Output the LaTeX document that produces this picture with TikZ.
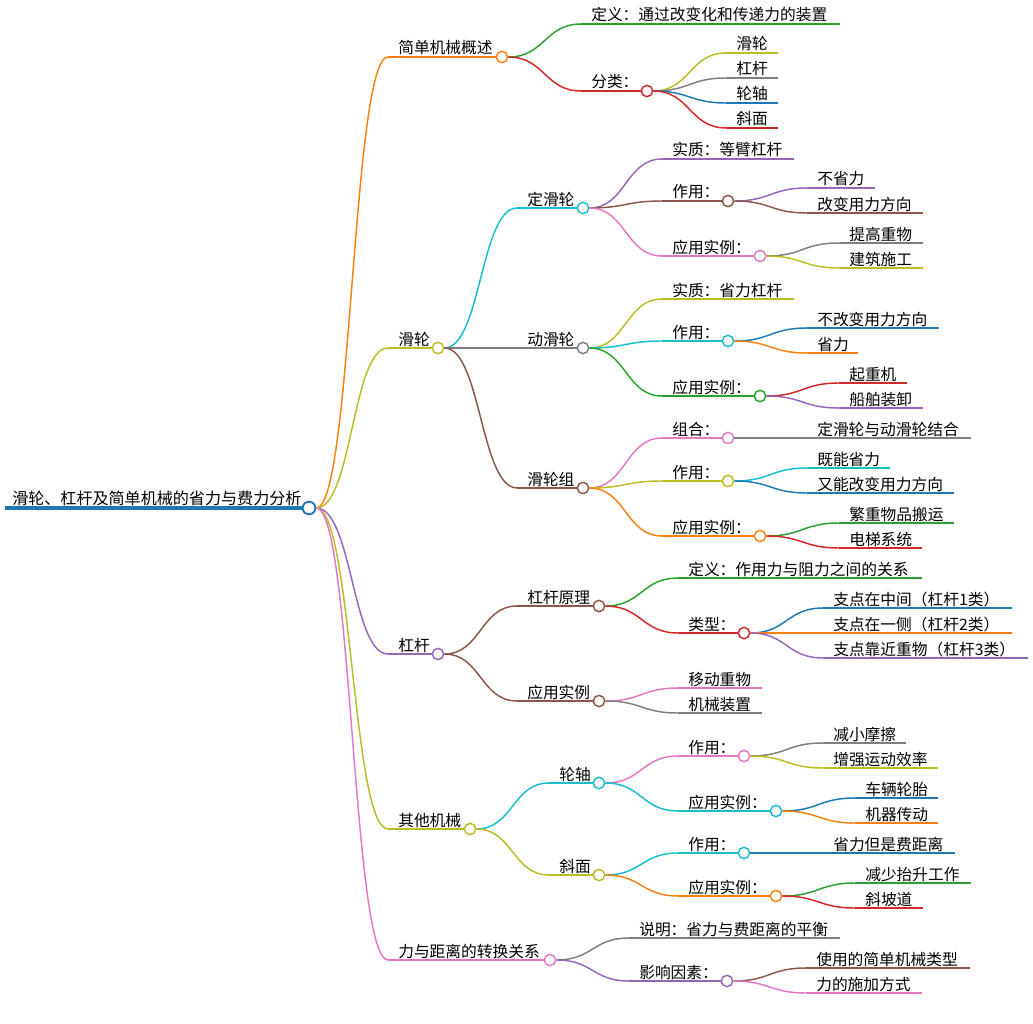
\documentclass[tikz,border=0pt]{standalone}
\usepackage{fontspec}
\setmainfont{Noto Sans CJK SC}
\usetikzlibrary{calc}
\definecolor{cblue}{HTML}{1F77B4}
\definecolor{corange}{HTML}{FF7F0E}
\definecolor{cgreen}{HTML}{2CA02C}
\definecolor{cred}{HTML}{D62728}
\definecolor{cpurple}{HTML}{9467BD}
\definecolor{cbrown}{HTML}{8C564B}
\definecolor{cpink}{HTML}{E377C2}
\definecolor{cgray}{HTML}{7F7F7F}
\definecolor{colive}{HTML}{BCBD22}
\definecolor{ccyan}{HTML}{17BECF}
\tikzset{
  lbl/.style={anchor=base west, inner sep=0pt, font=\fontsize{11.8}{14}\selectfont},
  wire/.style={line width=1.1pt},
  knot/.style={circle, draw, fill=white, line width=1.1pt, inner sep=0pt, minimum size=8.5pt},
}
\newcommand\link[3]{\draw[wire,#3] let \p1=(#1), \p2=(#2) in
  (\p1) .. controls ({(\x1+\x2)/2},\y1) and ({(\x1+\x2)/2},\y2) .. (\p2);}
\newcommand\twig[7]{%
  \coordinate (s#1) at (#4-10,#5);
  \coordinate (e#1) at (#6,#5);
  \node[lbl] (t#1) at (#4,#5-3) {#7};
  \draw[wire,#3] (s#1) -- (e#1);
  \link{c#2.east}{s#1}{#3}}
\newcommand\fork[7]{\twig{#1}{#2}{#3}{#4}{#5}{#6}{#7}\node[knot,draw=#3] (c#1) at (e#1) {};}
\begin{document}
\begin{tikzpicture}[x=0.75pt,y=-0.75pt]
\useasboundingbox (0,0) rectangle (1033,1024);

\coordinate (sr) at (5,508);
\node[lbl, font=\fontsize{12.05}{14}\selectfont] (tr) at (12,504) {滑轮、杠杆及简单机械的省力与费力分析};
\draw[cblue, line width=3pt] (sr) -- (309,508);
\node[knot, draw=cblue, line width=1.4pt, minimum size=9.5pt] (cr) at (309,508) {};

\fork{a}{r}{corange}{398}{57}{502}{简单机械概述}
\fork{b}{r}{colive}{398}{348}{438}{滑轮}
\fork{c}{r}{cpurple}{398}{654}{438}{杠杆}
\fork{d}{r}{colive}{398}{829}{470}{其他机械}
\fork{e}{r}{cpink}{398}{960}{550}{力与距离的转换关系}

\twig{a1}{a}{cgreen}{591}{24}{840}{定义：通过改变化和传递力的装置}
\fork{a2}{a}{cred}{591}{91}{647}{分类：}
\twig{a21}{a2}{colive}{736}{53}{778}{滑轮}
\twig{a22}{a2}{cgray}{736}{78}{778}{杠杆}
\twig{a23}{a2}{cblue}{736}{103}{778}{轮轴}
\twig{a24}{a2}{cred}{736}{128}{778}{斜面}

\fork{b1}{b}{ccyan}{527}{208}{583}{定滑轮}
\fork{b2}{b}{cgray}{527}{348}{583}{动滑轮}
\fork{b3}{b}{cbrown}{527}{488}{583}{滑轮组}
\twig{b11}{b1}{cpurple}{672}{159}{794}{实质：等臂杠杆}
\fork{b12}{b1}{cbrown}{672}{201}{728}{作用：}
\fork{b13}{b1}{cpink}{672}{256}{760}{应用实例：}
\twig{b121}{b12}{cpurple}{817}{188}{875}{不省力}
\twig{b122}{b12}{cbrown}{817}{213}{923}{改变用力方向}
\twig{b131}{b13}{cgray}{849}{243}{923}{提高重物}
\twig{b132}{b13}{colive}{849}{268}{923}{建筑施工}
\twig{b21}{b2}{colive}{672}{299}{794}{实质：省力杠杆}
\fork{b22}{b2}{ccyan}{672}{341}{728}{作用：}
\fork{b23}{b2}{cgreen}{672}{396}{760}{应用实例：}
\twig{b221}{b22}{cblue}{817}{328}{939}{不改变用力方向}
\twig{b222}{b22}{corange}{817}{353}{858}{省力}
\twig{b231}{b23}{cred}{849}{383}{907}{起重机}
\twig{b232}{b23}{cpurple}{849}{408}{923}{船舶装卸}
\fork{b31}{b3}{cpink}{672}{438}{728}{组合：}
\fork{b32}{b3}{colive}{672}{481}{728}{作用：}
\fork{b33}{b3}{corange}{672}{536}{760}{应用实例：}
\twig{b311}{b31}{cgray}{817}{438}{971}{定滑轮与动滑轮结合}
\twig{b321}{b32}{ccyan}{817}{468}{890}{既能省力}
\twig{b322}{b32}{cblue}{817}{493}{954}{又能改变用力方向}
\twig{b331}{b33}{cgreen}{849}{523}{954}{繁重物品搬运}
\twig{b332}{b33}{cred}{849}{548}{922}{电梯系统}

\fork{c1}{c}{cbrown}{527}{606}{599}{杠杆原理}
\fork{c2}{c}{cbrown}{527}{701}{599}{应用实例}
\twig{c11}{c1}{cgreen}{688}{578}{922}{定义：作用力与阻力之间的关系}
\fork{c12}{c1}{cred}{688}{633}{744}{类型：}
\twig{c121}{c12}{cblue}{833}{608}{1012}{支点在中间（杠杆1类）}
\twig{c122}{c12}{corange}{833}{633}{1012}{支点在一侧（杠杆2类）}
\twig{c123}{c12}{cpurple}{833}{658}{1028}{支点靠近重物（杠杆3类）}
\twig{c21}{c2}{cpink}{688}{688}{762}{移动重物}
\twig{c22}{c2}{cgray}{688}{713}{762}{机械装置}

\fork{d1}{d}{ccyan}{559}{783}{599}{轮轴}
\fork{d2}{d}{colive}{559}{875}{599}{斜面}
\fork{d11}{d1}{cpink}{688}{756}{744}{作用：}
\fork{d12}{d1}{ccyan}{688}{811}{776}{应用实例：}
\twig{d111}{d11}{cgray}{833}{743}{906}{减小摩擦}
\twig{d112}{d11}{colive}{833}{768}{938}{增强运动效率}
\twig{d121}{d12}{cblue}{865}{798}{938}{车辆轮胎}
\twig{d122}{d12}{corange}{865}{823}{938}{机器传动}
\fork{d21}{d2}{ccyan}{688}{853}{744}{作用：}
\fork{d22}{d2}{corange}{688}{896}{776}{应用实例：}
\twig{d211}{d21}{cblue}{833}{853}{955}{省力但是费距离}
\twig{d221}{d22}{cgreen}{865}{883}{971}{减少抬升工作}
\twig{d222}{d22}{cred}{865}{908}{923}{斜坡道}

\twig{e1}{e}{cgray}{639}{938}{840}{说明：省力与费距离的平衡}
\fork{e2}{e}{cpurple}{639}{981}{727}{影响因素：}
\twig{e21}{e2}{cbrown}{816}{968}{970}{使用的简单机械类型}
\twig{e22}{e2}{cpink}{816}{993}{922}{力的施加方式}
\end{tikzpicture}
\end{document}
